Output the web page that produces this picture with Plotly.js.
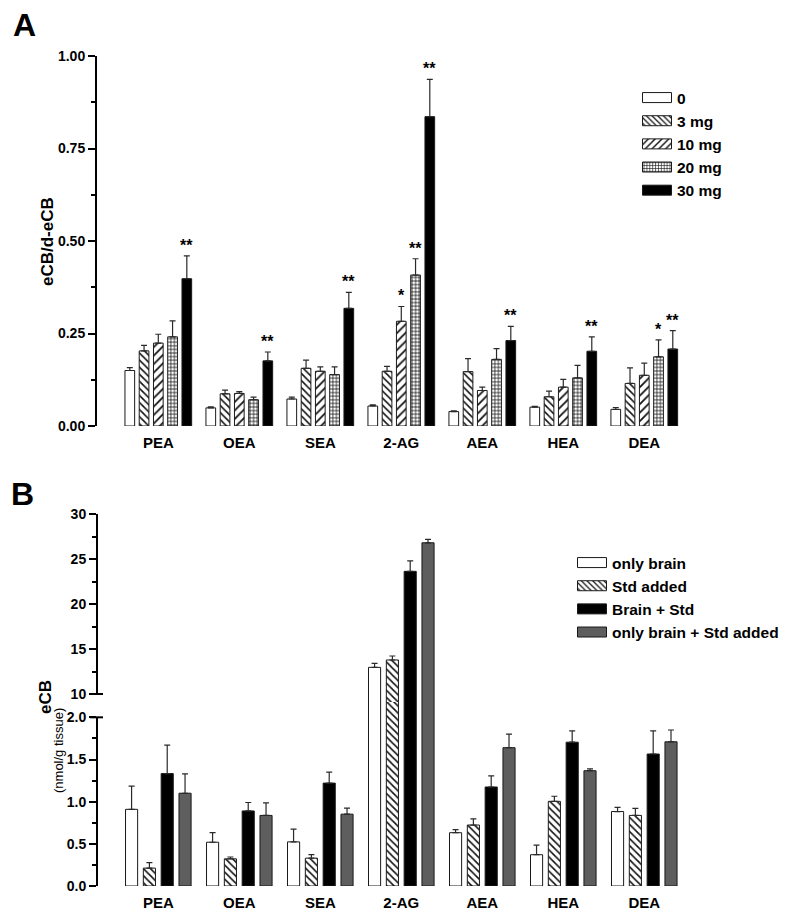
<!DOCTYPE html>
<html><head><meta charset="utf-8">
<script src="https://cdn.plot.ly/plotly-3.0.1.min.js"></script>
<style>html,body{margin:0;padding:0;background:#fff}#chart{width:800px;height:912px}</style>
</head><body><div id="chart"></div>
<script>
// ---------- data ----------
const categories = ['PEA', 'OEA', 'SEA', '2-AG', 'AEA', 'HEA', 'DEA'];

// Panel A: eCB/d-eCB by dose
const doseNames = ['0', '3 mg', '10 mg', '20 mg', '30 mg'];
const dose0  = [0.150, 0.049, 0.073, 0.054, 0.039, 0.051, 0.045];
const dose3  = [0.203, 0.087, 0.156, 0.148, 0.147, 0.079, 0.115];
const dose10 = [0.224, 0.088, 0.148, 0.283, 0.096, 0.105, 0.137];
const dose20 = [0.241, 0.071, 0.139, 0.408, 0.180, 0.130, 0.187];
const dose30 = [0.398, 0.176, 0.318, 0.836, 0.231, 0.202, 0.208];
const err0  = [0.008, 0.003, 0.005, 0.003, 0.002, 0.002, 0.005];
const err3  = [0.015, 0.010, 0.022, 0.013, 0.035, 0.015, 0.042];
const err10 = [0.024, 0.005, 0.012, 0.040, 0.009, 0.021, 0.033];
const err20 = [0.043, 0.007, 0.021, 0.044, 0.029, 0.034, 0.046];
const err30 = [0.062, 0.024, 0.043, 0.101, 0.038, 0.039, 0.050];
const sig0  = ['', '', '', '', '', '', ''];
const sig3  = ['', '', '', '', '', '', ''];
const sig10 = ['', '', '', '*', '', '', ''];
const sig20 = ['', '', '', '**', '', '', '*'];
const sig30 = ['**', '**', '**', '**', '**', '**', '**'];

// Panel B: eCB (nmol/g tissue)
const groupNames = ['only brain', 'Std added', 'Brain + Std', 'only brain + Std added'];
const onlyBrain    = [0.909, 0.519, 0.523, 12.96, 0.632, 0.371, 0.883];
const stdAdded     = [0.212, 0.322, 0.330, 13.78, 0.723, 1.004, 0.837];
const brainStd     = [1.333, 0.890, 1.220, 23.63, 1.174, 1.705, 1.565];
const onlyBrainStd = [1.100, 0.837, 0.852, 26.80, 1.640, 1.367, 1.710];
const errOnlyBrain    = [0.276, 0.114, 0.151, 0.44, 0.036, 0.114, 0.049];
const errStdAdded     = [0.064, 0.022, 0.041, 0.44, 0.072, 0.060, 0.083];
const errBrainStd     = [0.337, 0.100, 0.130, 1.17, 0.133, 0.135, 0.275];
const errOnlyBrainStd = [0.230, 0.148, 0.072, 0.39, 0.160, 0.022, 0.140];

// ---------- styling ----------
const FONT = 'Liberation Sans, Arial, Helvetica, sans-serif';
const BARGAP = 0.12, BARGROUPGAP = 0.32;
const lineCol = '#1a1a1a';
const zeros = categories.map(() => 0);

function errSpec(arr) {
  return {type: 'data', array: arr, arrayminus: zeros, symmetric: false,
          color: '#2a2a2a', thickness: 1.2, width: 3};
}

const patA = [
  {color: 'white', pattern: null},
  {color: 'white', pattern: {shape: '\\', size: 5, solidity: 0.32, fgcolor: '#111', bgcolor: 'white'}},
  {color: 'white', pattern: {shape: '/', size: 6, solidity: 0.3, fgcolor: '#111', bgcolor: 'white'}},
  {color: 'white', pattern: {shape: '+', size: 3.6, solidity: 0.38, fgcolor: '#111', bgcolor: 'white'}},
  {color: '#000000', pattern: null}
];
const valsA = [dose0, dose3, dose10, dose20, dose30];
const errsA = [err0, err3, err10, err20, err30];
const sigsA = [sig0, sig3, sig10, sig20, sig30];

const traces = [];
valsA.forEach((v, k) => {
  const m = {color: patA[k].color, line: {color: lineCol, width: 1}};
  if (patA[k].pattern) m.pattern = patA[k].pattern;
  traces.push({type: 'bar', name: doseNames[k], x: categories, y: v,
    error_y: errSpec(errsA[k]), marker: m, xaxis: 'x', yaxis: 'y',
    legend: 'legend', hoverinfo: 'skip'});
});

const patB = [
  {color: 'white', pattern: null},
  {color: 'white', pattern: {shape: '\\', size: 5, solidity: 0.32, fgcolor: '#111', bgcolor: 'white'}},
  {color: '#000000', pattern: null},
  {color: '#5e5e5e', pattern: null}
];
const valsB = [onlyBrain, stdAdded, brainStd, onlyBrainStd];
const errsB = [errOnlyBrain, errStdAdded, errBrainStd, errOnlyBrainStd];
// lower (0-2) and upper (10-30) parts of the broken axis
[['y3', true], ['y2', false]].forEach(([ya, show]) => {
  valsB.forEach((v, k) => {
    const m = {color: patB[k].color, line: {color: lineCol, width: 1}};
    if (patB[k].pattern) m.pattern = patB[k].pattern;
    traces.push({type: 'bar', name: groupNames[k], x: categories, y: v,
      error_y: errSpec(errsB[k]), marker: m, xaxis: 'x2', yaxis: ya,
      legend: 'legend2', showlegend: show, hoverinfo: 'skip'});
  });
});

// ---------- layout ----------
const W = 800, H = 912;
const px = x => x / W;
const py = y => (H - y) / H;
const axisX = 97;
const xDom = [px(axisX), px(700)];
const xRange = [-0.757, 6.688];

const tickFont = {family: FONT, size: 14, color: '#000', weight: 'bold'};
const catFont = {family: FONT, size: 15, color: '#000', weight: 'bold'};

const annotations = [];
// significance stars
const slot = (1 - BARGAP) / valsA.length;
sigsA.forEach((sarr, k) => {
  sarr.forEach((s, i) => {
    if (!s) return;
    annotations.push({xref: 'x', yref: 'y', x: i + (k - (valsA.length - 1) / 2) * slot,
      y: valsA[k][i] + errsA[k][i], text: s, showarrow: false, yanchor: 'bottom',
      xanchor: 'center', yshift: 0, font: {family: FONT, size: 16, color: '#000', weight: 'bold'}});
  });
});
annotations.push(
  {xref: 'paper', yref: 'paper', x: px(11), y: py(25), text: 'A', showarrow: false,
   xanchor: 'left', yanchor: 'middle', font: {family: FONT, size: 32, color: '#000', weight: 'bold'}},
  {xref: 'paper', yref: 'paper', x: px(9), y: py(494), text: 'B', showarrow: false,
   xanchor: 'left', yanchor: 'middle', font: {family: FONT, size: 32, color: '#000', weight: 'bold'}},
  {xref: 'paper', yref: 'paper', x: px(47), y: py(242), text: 'eCB/d-eCB', showarrow: false,
   textangle: -90, xanchor: 'center', yanchor: 'middle', font: {family: FONT, size: 17, color: '#000', weight: 'bold'}},
  {xref: 'paper', yref: 'paper', x: px(45), y: py(697), text: 'eCB', showarrow: false,
   textangle: -90, xanchor: 'center', yanchor: 'middle', font: {family: FONT, size: 17, color: '#000', weight: 'bold'}},
  {xref: 'paper', yref: 'paper', x: px(58), y: py(750), text: '(nmol/g tissue)', showarrow: false,
   textangle: -90, xanchor: 'center', yanchor: 'middle', font: {family: FONT, size: 13, color: '#000', weight: 'normal'}}
);

const shapes = [
  // broken axis lines of panel B
  {type: 'line', xref: 'paper', yref: 'y2', x0: px(axisX), x1: px(axisX), y0: 10, y1: 30, line: {color: '#000', width: 2}},
  {type: 'line', xref: 'paper', yref: 'y3', x0: px(axisX), x1: px(axisX), y0: 0, y1: 2, line: {color: '#000', width: 2}},
  // break marks
  {type: 'line', xref: 'paper', yref: 'y2', x0: px(axisX - 7), x1: px(axisX + 6), y0: 10, y1: 10, line: {color: '#000', width: 2}},
  {type: 'line', xref: 'paper', yref: 'y3', x0: px(axisX - 7), x1: px(axisX + 6), y0: 2, y1: 2, line: {color: '#000', width: 2}}
];

const yCommon = {showgrid: false, zeroline: false, ticks: 'outside', ticklen: 7, tickwidth: 2,
  tickcolor: '#000', tickfont: tickFont, fixedrange: true};
const xCommon = {type: 'category', showgrid: false, zeroline: false, showline: false, ticks: '',
  tickfont: catFont, range: xRange, domain: xDom, fixedrange: true, ticklabelstandoff: 6};

const layout = {
  width: W, height: H, margin: {l: 0, r: 0, t: 0, b: 0},
  paper_bgcolor: 'white', plot_bgcolor: 'rgba(0,0,0,0)',
  font: {family: FONT, color: '#000', weight: 'bold'},
  barmode: 'group', bargap: BARGAP, bargroupgap: BARGROUPGAP,
  xaxis: Object.assign({}, xCommon, {anchor: 'y'}),
  yaxis: Object.assign({}, yCommon, {domain: [py(426), py(56)], range: [0, 1], dtick: 0.25, tickformat: '.2f',
    showline: true, linecolor: '#000', linewidth: 2, anchor: 'x',
    minor: {dtick: 0.125, ticks: 'outside', ticklen: 4, tickwidth: 2, tickcolor: '#000'}}),
  xaxis2: Object.assign({}, xCommon, {anchor: 'y3'}),
  yaxis2: Object.assign({}, yCommon, {domain: [py(702), py(514)], range: [10 - 8 / 9, 30],
    tickvals: [10, 15, 20, 25, 30], showline: false, anchor: 'x2',
    minor: {tickvals: [12.5, 17.5, 22.5, 27.5], ticks: 'outside', ticklen: 4, tickwidth: 2, tickcolor: '#000'}}),
  yaxis3: Object.assign({}, yCommon, {domain: [py(886), py(702)], range: [0, 2 + 16 / 88],
    tickvals: [0, 0.5, 1, 1.5, 2], tickformat: '.1f', showline: false, anchor: 'x2',
    minor: {tickvals: [0.25, 0.75, 1.25, 1.75], ticks: 'outside', ticklen: 4, tickwidth: 2, tickcolor: '#000'}}),
  legend: {x: px(637), xanchor: 'left', y: py(81), yanchor: 'top', bgcolor: 'rgba(0,0,0,0)',
    font: {family: FONT, size: 15.5, color: '#000', weight: 'bold'}, tracegroupgap: 0, traceorder: 'normal'},
  legend2: {x: px(572), xanchor: 'left', y: py(546), yanchor: 'top', bgcolor: 'rgba(0,0,0,0)',
    font: {family: FONT, size: 15.5, color: '#000', weight: 'bold'}, tracegroupgap: 0, traceorder: 'normal'},
  annotations: annotations,
  shapes: shapes,
  showlegend: true
};

Plotly.newPlot('chart', traces, layout, {staticPlot: true, displayModeBar: false}).then(gd => {
  // wider rectangular legend swatches like the original figure
  gd.querySelectorAll('g.legendpoints path').forEach(p => {
    p.setAttribute('d', 'M14.5,5H-14.5V-5H14.5Z');
  });
});
</script>
</body></html>
